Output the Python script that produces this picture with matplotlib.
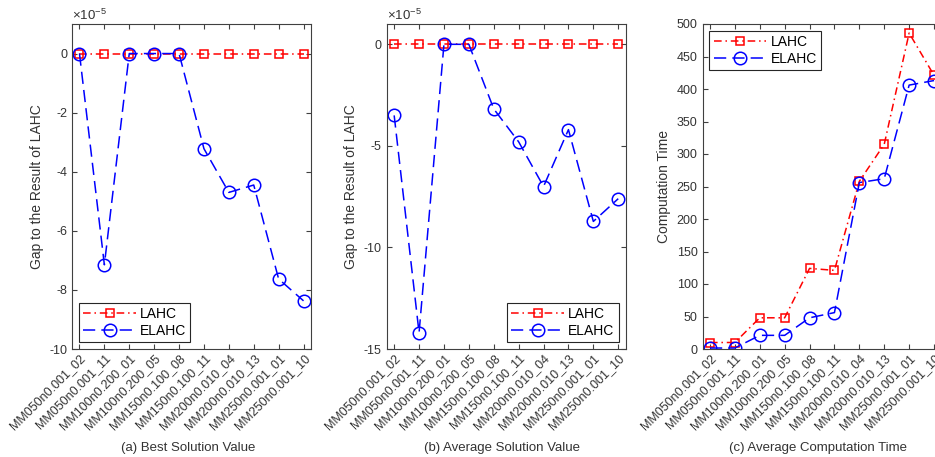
import numpy as np
import matplotlib.pyplot as plt

plt.rcParams['font.family'] = ['Liberation Sans', 'DejaVu Sans']
plt.rcParams['mathtext.fontset'] = 'custom'
plt.rcParams['mathtext.rm'] = 'Liberation Sans'
plt.rcParams['axes.unicode_minus'] = False

instances = ['MM050n0.001_02', 'MM050n0.001_11', 'MM100n0.200_01', 'MM100n0.200_05',
             'MM150n0.100_08', 'MM150n0.100_11', 'MM200n0.010_04', 'MM200n0.010_13',
             'MM250n0.001_01', 'MM250n0.001_10']

# gaps in units of 1e-5
best_lahc = [0, 0, 0, 0, 0, 0, 0, 0, 0, 0]
best_elahc = [0, -7.15, 0, 0, 0, -3.22, -4.7, -4.45, -7.63, -8.37]
avg_lahc = [0, 0, 0, 0, 0, 0, 0, 0, 0, 0]
avg_elahc = [-3.5, -14.2, 0, 0, -3.18, -4.8, -7.0, -4.2, -8.72, -7.6]
time_lahc = [10, 10, 48, 48, 124, 121, 258, 315, 486, 421]
time_elahc = [1.5, 1.5, 21, 21, 48, 56, 256, 262, 406, 413]

axis_col = '0.25'
x = np.arange(1, len(instances) + 1)

fig = plt.figure(figsize=(9.35, 4.57), dpi=100)
lefts = [72 / 935, 386.7 / 935, 702.5 / 935]
w = 239 / 935
b = 1 - 349 / 457
h = 325 / 457
axes = [fig.add_axes([l, b, w, h]) for l in lefts]


def style(ax):
    ax.set_xlim(0.7, 10.3)
    ax.set_xticks(x)
    ax.set_xticklabels(instances, rotation=45, ha='right', rotation_mode='anchor', fontsize=9)
    ax.tick_params(direction='in', length=3.5, top=True, right=True, colors=axis_col,
                   labelcolor='0.2', labelsize=9, width=0.8)
    ax.tick_params(axis='x', pad=2)
    for s in ax.spines.values():
        s.set_color(axis_col)
        s.set_linewidth(0.8)


def draw(ax, a, c, loc):
    ax.plot(x, a, color='red', linestyle=(0, (5, 2.5, 1, 2.5)), linewidth=1.1,
            marker='s', markersize=6, markerfacecolor='none', markeredgewidth=1.1, label='LAHC')
    ax.plot(x, c, color='blue', linestyle=(0, (8, 4)), linewidth=1.1,
            marker='o', markersize=9, markerfacecolor='none', markeredgewidth=1.1, label='ELAHC')
    leg = ax.legend(loc=loc, fontsize=10, handlelength=3.8, fancybox=False,
                    framealpha=1, edgecolor='0.15', borderpad=0.3, labelspacing=0.2,
                    handletextpad=0.3)
    leg.get_frame().set_linewidth(0.8)


# (a)
ax = axes[0]
draw(ax, best_lahc, best_elahc, 'lower left')
ax.set_ylim(-10, 1)
ax.set_yticks(np.arange(-10, 1, 2))
style(ax)
ax.set_ylabel('Gap to the Result of LAHC', fontsize=10, color='0.2')

# (b)
ax = axes[1]
draw(ax, avg_lahc, avg_elahc, 'lower right')
ax.set_ylim(-15, 1)
ax.set_yticks(np.arange(-15, 1, 5))
style(ax)
ax.set_ylabel('Gap to the Result of LAHC', fontsize=10, color='0.2')

for ax in axes[:2]:
    ax.text(0.0, 1.004, r'$\times\mathregular{10^{-5}}$', transform=ax.transAxes,
            ha='left', va='bottom', fontsize=9.5, color='0.2')

# (c)
ax = axes[2]
draw(ax, time_lahc, time_elahc, 'upper left')
ax.set_ylim(0, 500)
ax.set_yticks(np.arange(0, 501, 50))
style(ax)
ax.set_ylabel('Computation Time', fontsize=10, color='0.2')

titles = ['(a) Best Solution Value', '(b) Average Solution Value', '(c) Average Computation Time']
for ax, t in zip(axes, titles):
    pos = ax.get_position()
    fig.text(pos.x0 + pos.width / 2 - 0.004, 1 - 448 / 457, t, ha='center', va='center',
             fontsize=9.5, color='0.2')

fig.savefig('out.png', dpi=100)
